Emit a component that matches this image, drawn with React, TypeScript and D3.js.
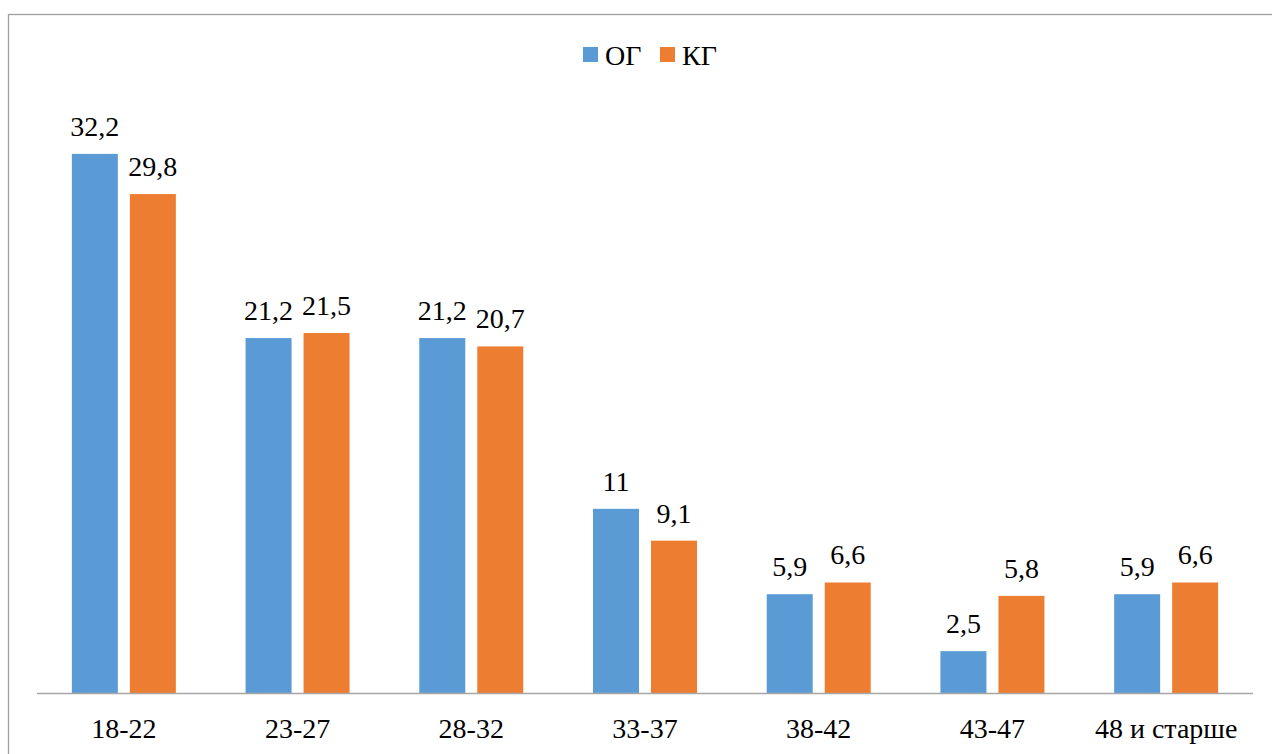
import React from "react";
import * as d3 from "d3";

const categories = ["18-22", "23-27", "28-32", "33-37", "38-42", "43-47", "48 и старше"];
const seriesNames = ["ОГ", "КГ"];
const ogValues = [32.2, 21.2, 21.2, 11, 5.9, 2.5, 5.9];
const kgValues = [29.8, 21.5, 20.7, 9.1, 6.6, 5.8, 6.6];
const colors = ["#5B9BD5", "#ED7D31"];

const W = 1272;
const H = 754;
const textStyle: React.CSSProperties = {
  fontFamily: '"Liberation Serif"',
  fontSize: "28px",
};

export default function App() {
  const x0 = d3.scaleBand<string>().domain(categories).range([37, 1253]).paddingInner(0).paddingOuter(0);
  const y = d3.scaleLinear().domain([0, 35]).range([693, 107]);
  const barW = 46;
  const gap = 12;
  const series = [ogValues, kgValues];
  const fmt = (v: number) => String(v).replace(".", ",");

  return (
    <svg
      width={W}
      height={H}
      style={{ position: "absolute", left: 0, top: 0, background: "#fff" }}
    >
      <rect x={8.5} y={14.5} width={1400} height={900} fill="#fff" stroke="#a0a0a0" strokeWidth={1.3} />

      {/* legend */}
      <g>
        <rect x={583} y={47} width={15} height={15} fill={colors[0]} />
        <text x={605} y={65} style={textStyle} fill="#000">{seriesNames[0]}</text>
        <rect x={660} y={47} width={15} height={15} fill={colors[1]} />
        <text x={682} y={65} style={textStyle} fill="#000">{seriesNames[1]}</text>
      </g>

      {/* bars and value labels */}
      {categories.map((c, i) => {
        const center = (x0(c) ?? 0) + x0.bandwidth() / 2;
        return (
          <g key={c}>
            {series.map((vals, s) => {
              const bx = s === 0 ? center - gap / 2 - barW : center + gap / 2;
              const v = vals[i];
              return (
                <g key={s}>
                  <rect x={bx} y={y(v)} width={barW} height={y(0) - y(v)} fill={colors[s]} />
                  <text
                    x={bx + barW / 2}
                    y={y(v) - 18}
                    textAnchor="middle"
                    style={textStyle}
                    fill="#000"
                  >
                    {fmt(v)}
                  </text>
                </g>
              );
            })}
            <text x={center} y={738} textAnchor="middle" style={textStyle} fill="#000">
              {c}
            </text>
          </g>
        );
      })}

      {/* category axis */}
      <line x1={37} x2={1253} y1={y(0) + 0.5} y2={y(0) + 0.5} stroke="#a6a6a6" strokeWidth={1.5} />
    </svg>
  );
}
